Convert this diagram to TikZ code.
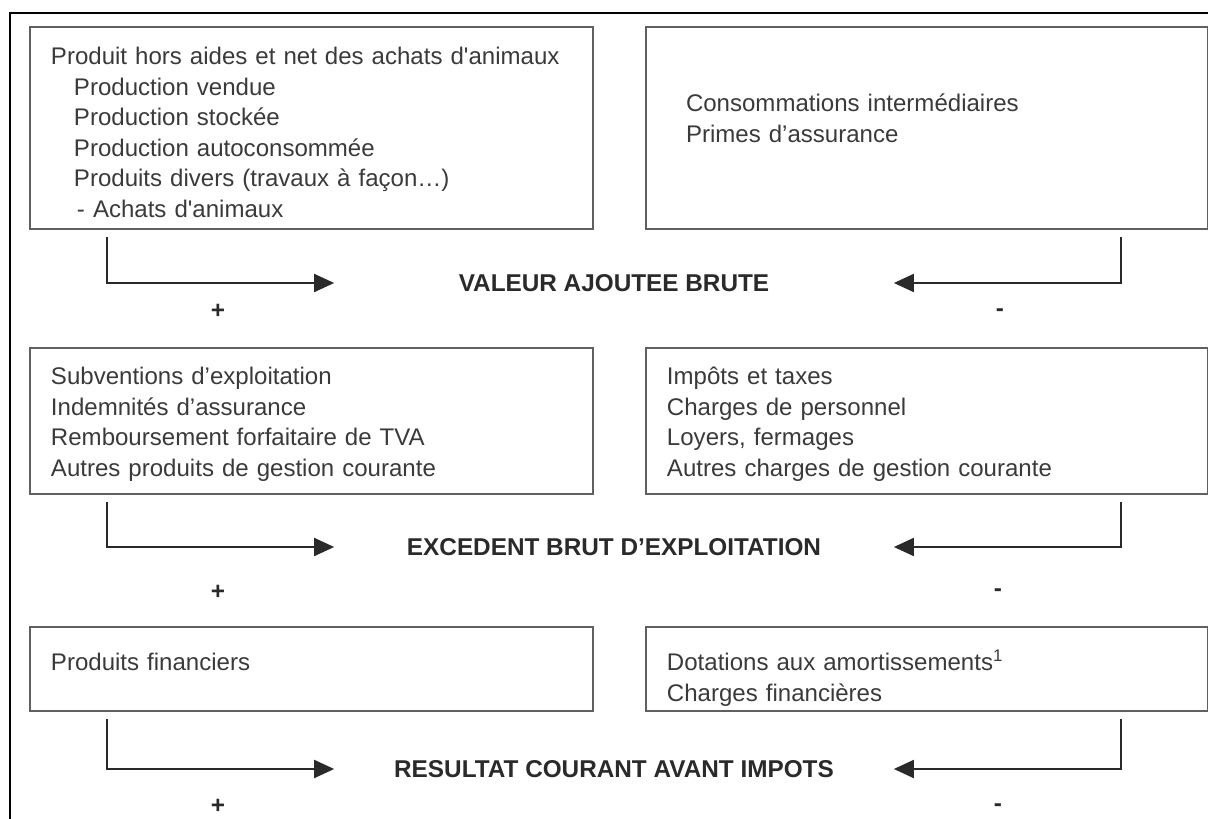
\documentclass[tikz,border=0pt]{standalone}
\usepackage{fontspec}
\setmainfont{Liberation Sans}
\usepackage{xcolor}
\usetikzlibrary{arrows.meta,positioning}
\definecolor{boxgray}{HTML}{606060}
\definecolor{txtgray}{HTML}{3A3A3A}
\definecolor{lblgray}{HTML}{2A2A2A}

\begin{document}
\begin{tikzpicture}[
  x=0.025cm, y=-0.025cm,
  every node/.style={font=\fontsize{17.1}{21.7}\selectfont},
  arr/.style={-{Triangle[length=5mm,width=4.5mm]}, draw=lblgray, line width=1.4pt},
  box/.style={draw=boxgray, line width=1.4pt, anchor=north west, align=left, text=txtgray, inner xsep=5.25mm, inner ysep=0pt},
  lbox/.style={box, text width=13.025cm},
  rbox/.style={box, text width=13cm},
  total/.style={font=\fontsize{17.3}{21.7}\selectfont\bfseries, text=lblgray, minimum width=13.975cm, inner sep=0pt},
  sign/.style={font=\fontsize{17.3}{21.7}\selectfont\bfseries, text=lblgray, inner sep=0pt}
]
  \useasboundingbox (0,0) rectangle (1208,819);
  \draw[line width=2pt] (10,819) -- (10,13) -- (1208,13);

  \node[lbox, text height=9.4mm, text depth=41.1mm] (prod) at (29,26)
    {Produit hors aides et net des achats d\textquotesingle animaux\\
     \hspace*{5.75mm}Production vendue\\
     \hspace*{5.75mm}Production stockée\\
     \hspace*{5.75mm}Production autoconsommée\\
     \hspace*{5.75mm}Produits divers (travaux à façon…)\\
     \hspace*{6.5mm}- Achats d\textquotesingle animaux};
  \node[rbox, text width=12.05cm, inner xsep=10mm, text height=21.2mm, text depth=29.3mm] (conso) at (645,26)
    {Consommations intermédiaires\\Primes d’assurance};
  \node[total] (vab) at (614,283) {VALEUR AJOUTEE BRUTE};
  \draw[arr] ([xshift=19.5mm,yshift=-1.75mm]prod.south west) |- (vab.west);
  \draw[arr] ([xshift=-22mm,yshift=-1.75mm]conso.south east) |- (vab.east);
  \node[sign] (plus1) at (218,311) {+};
  \node[sign] (minus1) at (1000,313) {-};

  \node[lbox, text height=9.2mm, text depth=27.3mm] (subv) at (29,347)
    {Subventions d’exploitation\\Indemnités d’assurance\\Remboursement forfaitaire de TVA\\Autres produits de gestion courante};
  \node[rbox, text height=9.2mm, text depth=27.3mm] (taxes) at (645,347)
    {Impôts et taxes\\Charges de personnel\\Loyers, fermages\\Autres charges de gestion courante};
  \node[total] (ebe) at (614,547) {EXCEDENT BRUT D’EXPLOITATION};
  \draw[arr] ([xshift=19.5mm,yshift=-1.75mm]subv.south west) |- (ebe.west);
  \draw[arr] ([xshift=-22mm,yshift=-1.75mm]taxes.south east) |- (ebe.east);
  \node[sign] (plus2) at (218,592) {+};
  \node[sign] (minus2) at (998,593) {-};

  \node[lbox, text height=10.9mm, text depth=10.1mm] (fin) at (29,626)
    {Produits financiers};
  \node[rbox, text height=10.9mm, text depth=10.1mm] (dot) at (645,626)
    {Dotations aux amortissements\textsuperscript{1}\\Charges financières};
  \node[total] (rcai) at (614,769) {RESULTAT COURANT AVANT IMPOTS};
  \draw[arr] ([xshift=19.5mm,yshift=-1.75mm]fin.south west) |- (rcai.west);
  \draw[arr] ([xshift=-22mm,yshift=-1.75mm]dot.south east) |- (rcai.east);
  \node[sign] (plus3) at (218,806) {+};
  \node[sign] (minus3) at (998,808) {-};
\end{tikzpicture}
\end{document}
